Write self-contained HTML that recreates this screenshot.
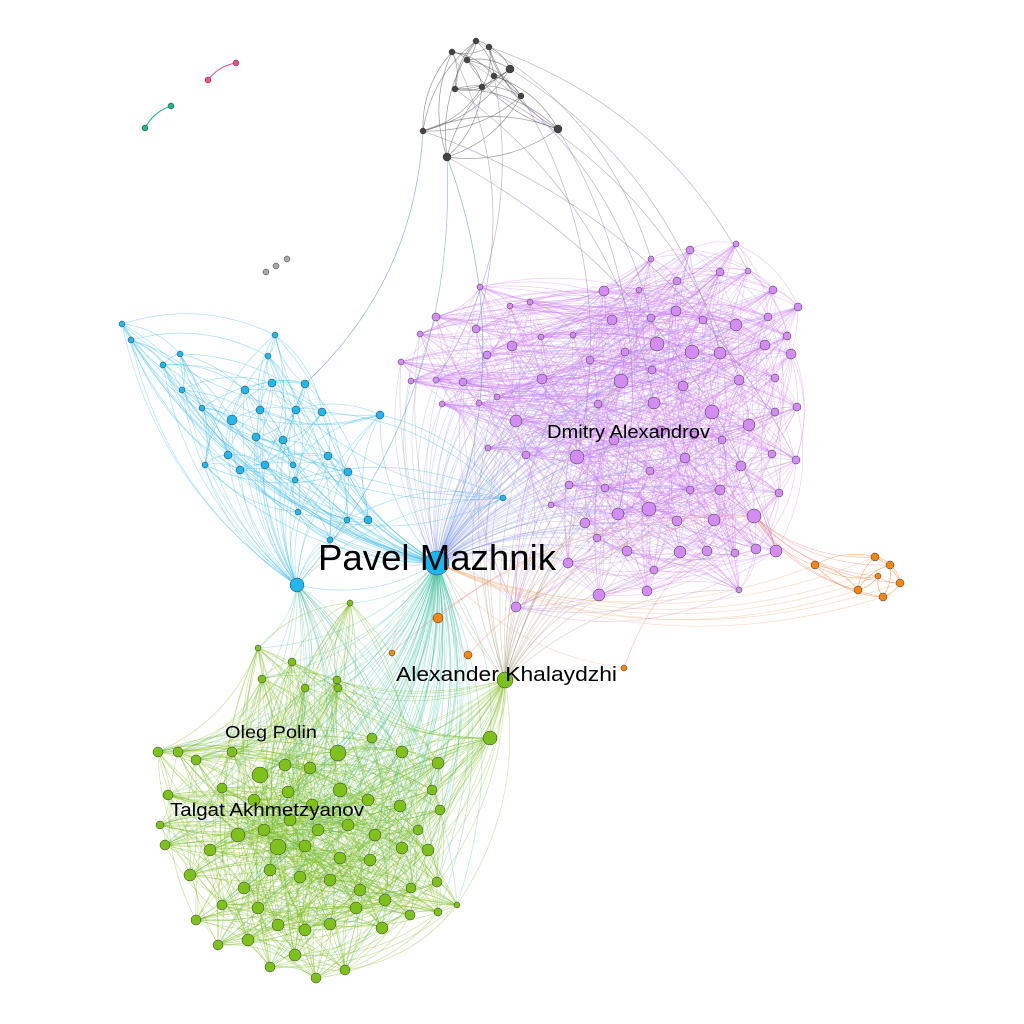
<!DOCTYPE html>
<html><head><meta charset="utf-8"><style>
body{margin:0;background:#fff}
svg{display:block}
text{font-family:"Liberation Sans",sans-serif;fill:#000}
</style></head><body>
<svg id="net" width="1024" height="1024" viewBox="0 0 1024 1024">
<g id="edges"></g>
<g id="nodes"></g>
<g id="labels">
<text x="318" y="570" font-size="36.5" textLength="238" lengthAdjust="spacingAndGlyphs">Pavel Mazhnik</text>
<text x="547" y="438" font-size="18" textLength="163" lengthAdjust="spacingAndGlyphs">Dmitry Alexandrov</text>
<text x="396" y="681" font-size="20" textLength="221" lengthAdjust="spacingAndGlyphs">Alexander Khalaydzhi</text>
<text x="225" y="738" font-size="17.5" textLength="92" lengthAdjust="spacingAndGlyphs">Oleg Polin</text>
<text x="170" y="816" font-size="18" textLength="194" lengthAdjust="spacingAndGlyphs">Talgat Akhmetzyanov</text>
</g>
</svg>
<script>
const purpleNodes=[[651,259,3],[690,250,4],[736,244,3],[604,291,5],[639,290,3],[677,281,4],[720,272,4],[748,271,3],[773,290,4],[798,307,4],[480,287,3],[510,306,3],[530,302,3],[436,317,4],[476,329,4],[420,334,3],[487,355,4],[512,346,5],[541,337,3],[573,335,3],[612,320,5],[651,318,4],[676,311,5],[703,320,4],[736,325,6],[768,317,4],[787,336,4],[765,345,5],[720,353,6],[692,352,7],[657,344,7],[625,352,4],[590,360,4],[542,379,5],[463,382,4],[436,380,3],[401,362,3],[411,381,3],[497,397,3],[621,381,7],[652,370,4],[683,386,5],[739,380,5],[775,378,4],[791,354,5],[712,412,7],[749,425,6],[775,412,4],[797,407,4],[654,403,6],[598,404,4],[516,421,6],[479,403,3],[442,404,3],[488,448,3],[526,455,4],[577,457,7],[614,440,5],[661,431,5],[694,435,4],[722,440,4],[741,466,5],[772,454,4],[796,460,4],[685,458,5],[650,471,4],[605,488,4],[569,485,4],[551,505,3],[585,523,5],[618,514,6],[649,509,7],[677,521,5],[714,520,6],[754,516,7],[779,493,4],[756,549,5],[776,551,6],[735,553,4],[707,551,5],[680,552,6],[654,570,4],[627,551,5],[597,538,4],[568,563,5],[599,595,6],[647,591,5],[739,590,3],[516,607,5],[720,490,5],[690,490,4]];
const greenNodes=[[258,648,3],[262,679,4],[292,662,4],[305,688,4],[338,688,4],[350,603,3],[337,680,4],[158,752,5],[178,752,5],[196,760,5],[232,752,5],[260,775,8],[285,765,6],[310,768,6],[338,753,8],[372,738,5],[402,752,6],[438,763,6],[432,790,5],[440,810,5],[418,830,5],[400,806,6],[368,800,6],[340,790,7],[312,805,6],[288,792,6],[254,800,6],[222,788,5],[168,795,5],[160,825,4],[165,845,5],[190,875,6],[210,850,6],[238,835,7],[264,830,6],[290,820,6],[318,830,6],[348,825,6],[375,835,6],[402,848,6],[428,850,6],[437,882,5],[411,888,5],[385,900,6],[360,890,6],[330,880,6],[300,877,6],[270,870,6],[244,888,6],[222,905,5],[196,920,5],[218,945,5],[248,940,6],[278,925,6],[305,930,6],[330,924,6],[356,908,6],[382,928,6],[410,915,5],[438,912,4],[457,905,3],[270,967,5],[316,978,5],[345,970,5],[295,955,6],[258,908,6],[278,847,8],[340,858,6],[370,860,6],[305,846,6],[490,738,7]];
const blueNodes=[[122,324,3],[131,340,3],[163,365,3],[180,354,3],[182,390,3],[202,408,3],[205,465,3],[228,455,4],[232,420,5],[245,390,4],[260,410,4],[272,383,4],[305,384,4],[275,335,3],[268,356,3],[296,410,4],[322,412,4],[283,440,4],[256,437,4],[240,470,4],[265,465,4],[293,465,3],[295,480,3],[328,456,4],[348,472,4],[368,520,4],[347,520,3],[330,540,3],[380,415,4],[503,498,3],[298,512,3],[297,585,7]];
const darkNodes=[[476,41,3],[489,47,3],[452,52,3],[467,60,3],[510,69,4],[494,76,3],[482,87,3],[455,89,3],[521,96,3],[423,131,3],[558,129,4],[447,157,4]];
const orangeNodes=[[815,565,4],[858,590,4],[875,557,4],[890,565,4],[900,583,4],[883,597,4],[438,618,5],[468,655,4],[392,653,3],[624,668,3],[878,576,3]];
const smallNodes=[[208,80,3,'#e8508a'],[236,63,3,'#e8508a'],[145,128,3,'#1fb58a'],[171,106,3,'#1fb58a'],[266,272,3,'#aaa'],[276,266,3,'#aaa'],[287,259,3,'#aaa']];
const pavel=[437,563,12];
const khal=[505,680,8];
const linkSteps=[1,3,5,7,11,13,19,23,29,37];

const NS='http://www.w3.org/2000/svg';
const E=document.getElementById('edges'),N=document.getElementById('nodes');
function curve(a,b,color,op,w){
  const dx=b[0]-a[0],dy=b[1]-a[1];
  const cx=(a[0]+b[0])/2+dy*0.2,cy=(a[1]+b[1])/2-dx*0.2;
  const p=document.createElementNS(NS,'path');
  p.setAttribute('d',`M${a[0]},${a[1]}Q${cx},${cy} ${b[0]},${b[1]}`);
  p.setAttribute('fill','none');p.setAttribute('stroke',color);
  p.setAttribute('stroke-opacity',op);p.setAttribute('stroke-width',w||0.7);
  
  
  E.appendChild(p);
}
function cluster(list,color,op,steps){
  list.forEach((a,i)=>steps.forEach(s=>{
    const b=list[(i+s)%list.length];curve(a,b,color,op);
  }));
}
cluster(purpleNodes,'#cc77f0',0.35,linkSteps);
cluster(greenNodes,'#7ab81a',0.4,linkSteps);
cluster(blueNodes.slice(0,31),'#3cbbe8',0.45,[1,3,7,13]);
cluster(darkNodes,'#555',0.6,[1,3,5]);
cluster(orangeNodes.slice(0,6).concat([orangeNodes[10]]),'#f08a30',0.6,[1,2]);
purpleNodes.forEach((a,i)=>{curve(pavel,a,'#8899f0',0.35); if(i%3==0)curve(khal,a,'#a89a80',0.4);});
greenNodes.forEach((a,i)=>{curve(pavel,a,'#30c0a0',0.35); if(i%2==0)curve(khal,a,'#8cc030',0.4); if(i%3==0)curve([297,585],a,'#50b8a0',0.35);});
blueNodes.forEach(a=>{curve(pavel,a,'#3cbbe8',0.45);curve([297,585],a,'#3cbbe8',0.4);});
darkNodes.forEach((a,i)=>{curve(a,purpleNodes[(i*7)%purpleNodes.length],'#9a80b0',0.6);});
curve([447,157],pavel,'#5a9ab0',0.7);curve([423,131],[305,384],'#5a9ab0',0.7);curve([447,157],[297,585],'#5a9ab0',0.6);
orangeNodes.forEach(a=>{curve(a,[754,516],'#f08070',0.45);curve(a,pavel,'#f0a060',0.35);});
curve([145,128],[171,106],'#1fb58a',1,1);curve([208,80],[236,63],'#e8508a',1,1);
function dot(n,fill,name){
  const c=document.createElementNS(NS,'circle');
  c.setAttribute('cx',n[0]);c.setAttribute('cy',n[1]);c.setAttribute('r',n[2]);
  c.setAttribute('fill',fill);c.setAttribute('stroke','#333');c.setAttribute('stroke-width',0.5);
  
  
  N.appendChild(c);
}
purpleNodes.forEach(n=>dot(n,'#d48cf5','purple-node'));
greenNodes.forEach(n=>dot(n,'#7ec11c','green-node'));
blueNodes.forEach(n=>dot(n,'#22b8ef','blue-node'));
darkNodes.forEach(n=>dot(n,'#444','dark-node'));
orangeNodes.forEach(n=>dot(n,'#f7860f','orange-node'));
smallNodes.forEach(n=>dot(n,n[3],'isolated-node'));
dot(pavel,'#1ab8f2','pavel-mazhnik-node');
dot(khal,'#7ec11c','alexander-khalaydzhi-node');
</script>
</body></html>
